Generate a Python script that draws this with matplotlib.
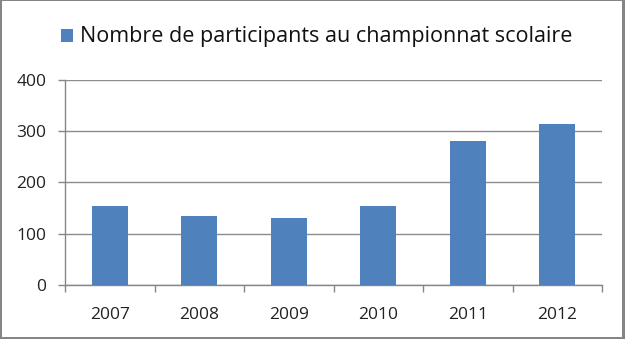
import matplotlib
matplotlib.use("Agg")
import matplotlib.pyplot as plt
from matplotlib.patches import Rectangle
import numpy as np

years = ["2007", "2008", "2009", "2010", "2011", "2012"]
participants = [153, 135, 131, 153, 280, 313]
series_name = "Nombre de participants au championnat scolaire"
yticks = [0, 100, 200, 300, 400]

W, H = 625, 339
plt.rcParams['font.family'] = ['Open Sans', 'DejaVu Sans']
fig = plt.figure(figsize=(W / 100, H / 100), dpi=100, facecolor="#858585")

def fx(px):
    return px / W

def fy(py):
    return 1 - py / H

# white inner area (border drawn by gray figure background)
fig.patches.append(Rectangle((fx(2), fy(337)), (620) / W, (336) / H, transform=fig.transFigure,
                             facecolor="white", edgecolor="none", zorder=-10))

left, right, top, bottom = 65, 602, 79.7, 285
ax = fig.add_axes([fx(left), fy(bottom), (right - left) / W, (bottom - top) / H])
ax.set_facecolor("none")
ax.set_zorder(5)

x = np.arange(len(years))
bar_color = "#4f81bd"
ax.bar(x, participants, width=0.4, color=bar_color, zorder=3)
ax.set_xlim(-0.5, len(years) - 0.5)
ax.set_ylim(0, 400)
ax.set_yticks(yticks)
ax.set_yticklabels([str(v) for v in yticks], fontsize=12.5, color="#222222")
ax.set_xticks(x)
ax.set_xticklabels(years, fontsize=12.5, color="#222222")
ax.tick_params(axis='x', length=0, pad=15.5)
ax.set_xticks(np.arange(-0.5, len(years)), minor=True)
ax.tick_params(axis='x', which='minor', length=5, color="#868686", width=1)
ax.tick_params(axis='y', length=5, color="#868686", width=1, pad=8.5)
ax.grid(axis='y', color="#8c8c8c", linewidth=1, zorder=0)
for s in ["top", "right"]:
    ax.spines[s].set_visible(False)
for s in ["left", "bottom"]:
    ax.spines[s].set_color("#868686")
    ax.spines[s].set_linewidth(1)

# legend
fig.patches.append(Rectangle((fx(61), fy(41.5)), 12 / W, 12.5 / H, transform=fig.transFigure,
                             facecolor=bar_color, edgecolor="none", zorder=6))
fig.text(fx(80), fy(41.7), series_name, fontsize=15.5, va="baseline", ha="left", color="#111111",
         zorder=6)

fig.savefig("out.png", dpi=100, facecolor=fig.get_facecolor())
